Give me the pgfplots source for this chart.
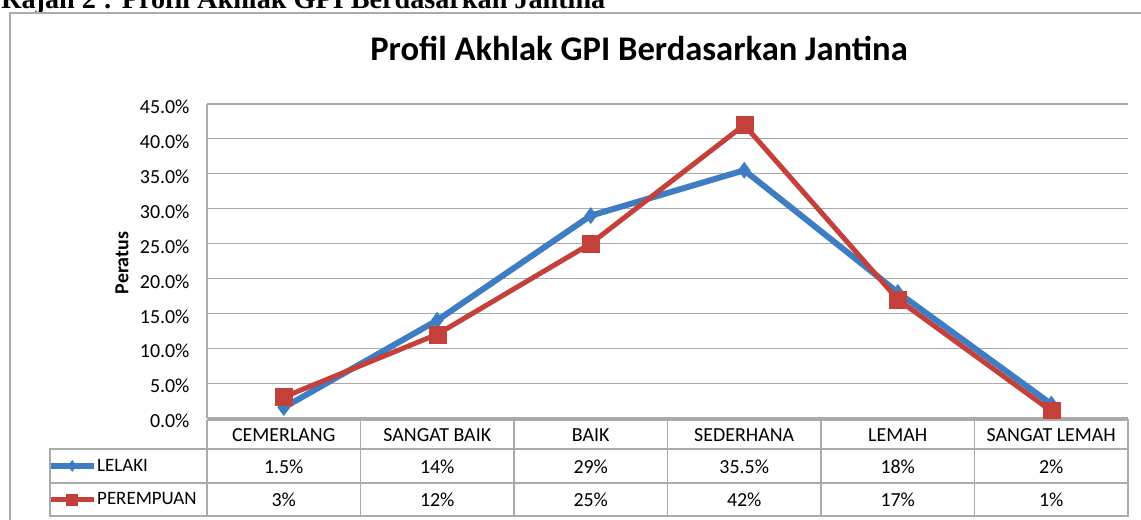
\documentclass[border=0pt]{standalone}
\usepackage{fontspec}
\setmainfont{Carlito}
\newfontfamily\capfont{Liberation Serif}
\usepackage{pgfplots}
\pgfplotsset{compat=1.18}
\definecolor{blueL}{RGB}{62,125,195}
\definecolor{redP}{RGB}{195,65,58}
\definecolor{gridg}{RGB}{170,170,170}
\begin{document}
\begin{tikzpicture}
\useasboundingbox (0bp,0bp) rectangle (1141bp,-520bp);
\clip (0bp,0bp) rectangle (1141bp,-520bp);
\begin{scope}[x=1bp,y=-1bp]
\node[anchor=base west, inner sep=0pt, font=\capfont\bfseries\fontsize{28.3}{30}\selectfont] at (1,8) {Rajah 2 : Profil Akhlak GPI Berdasarkan Jantina};
\draw[gridg, line width=1.5bp] (10,13) rectangle (1200,600);
\node[font=\bfseries\fontsize{34.7}{38}\selectfont, inner sep=0pt] at (639,48) {Profil Akhlak GPI Berdasarkan Jantina};
\node[font=\bfseries\fontsize{20}{22}\selectfont, rotate=90, inner sep=0pt] at (122,263) {Peratus};
\end{scope}
\begin{axis}[
  at={(207bp,-418bp)}, anchor=south west,
  width=921bp, height=314bp, scale only axis,
  xmin=-0.5, xmax=5.5, ymin=0, ymax=45,
  axis x line=none, axis y line*=left,
  y axis line style={gridg, line width=1.2bp, -},
  ytick={0,5,...,45},
  major tick length=0pt,
  ymajorgrids, grid style={gridg, line width=1.2bp},
  /pgf/number format/assume math mode=true,
  yticklabel={\pgfmathprintnumber[fixed,fixed zerofill,precision=1]{\tick}\%},
  yticklabel style={font=\fontsize{20}{22}\selectfont, xshift=-14bp, yshift=-3bp},
  clip=false,
  legend image code/.code={\draw[mark repeat=2,mark phase=2,#1, mark size=5.5bp] plot coordinates {(0bp,0bp) (22bp,0bp) (44bp,0bp)};},
  legend style={at={(axis description cs:-0.1737,-0.0987)}, anchor=north west, draw=none, fill=none,
     font=\fontsize{19}{21}\selectfont, row sep=0pt, column sep=0pt, inner sep=0pt,
     nodes={inner sep=0pt, minimum height=33.5bp, anchor=west}},
  legend cell align=left,
]
\addplot[blueL, line width=6bp, mark=diamond*, mark size=8bp, mark options={solid, line width=0.5bp}]
  coordinates {(0,1.5) (1,14) (2,29) (3,35.5) (4,18) (5,2)};
\addlegendentry{LELAKI}
\addplot[redP, line width=5bp, mark=square*, mark size=8.5bp, mark options={solid, line width=0.5bp}]
  coordinates {(0,3) (1,12) (2,25) (3,42) (4,17) (5,1)};
\addlegendentry{PEREMPUAN}
\end{axis}
\begin{scope}[x=1bp,y=-1bp]
\draw[gridg, line width=1.2bp] (207,420) -- (1128,420) -- (1128,516) -- (50,516) -- (50,449) -- (1128,449);
\draw[gridg, line width=1.2bp] (50,483) -- (1128,483);
\foreach \i in {0,...,5} {
  \draw[gridg, line width=1.2bp] ({207+153.5*\i},420) -- ({207+153.5*\i},516);
}
\foreach \t [count=\i from 0] in {CEMERLANG,SANGAT BAIK,BAIK,SEDERHANA,LEMAH,SANGAT LEMAH} {
  \node[font=\fontsize{20}{22}\selectfont, inner sep=0pt] at ({283.75+153.5*\i},435) {\t};
}
\foreach \t [count=\i from 0] in {1.5\%,14\%,29\%,35.5\%,18\%,2\%} {
  \node[font=\fontsize{20}{22}\selectfont, inner sep=0pt] at ({283.75+153.5*\i},467) {\t};
}
\foreach \t [count=\i from 0] in {3\%,12\%,25\%,42\%,17\%,1\%} {
  \node[font=\fontsize{20}{22}\selectfont, inner sep=0pt] at ({283.75+153.5*\i},500) {\t};
}
\end{scope}
\end{tikzpicture}
\end{document}
